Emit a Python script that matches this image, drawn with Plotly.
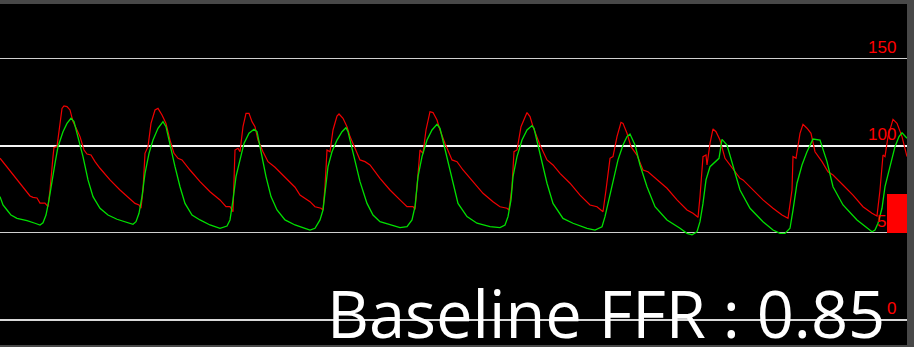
import plotly.graph_objects as go

# ---- data (time in seconds, pressure in mmHg) ----
red_t = [0.00, 0.10, 0.20, 0.30, 0.33, 0.37, 0.40, 0.45, 0.48, 0.50, 0.53, 0.54, 0.57, 0.60, 0.62, 0.64,
         0.67, 0.70, 0.73, 0.77, 0.80, 0.84, 0.87, 0.91, 0.95, 1.00, 1.10, 1.20, 1.30, 1.35, 1.39, 1.41,
         1.43, 1.45, 1.48, 1.51, 1.55, 1.58, 1.62, 1.66, 1.70, 1.74, 1.78, 1.82, 1.90, 2.00, 2.10, 2.20,
         2.26, 2.30, 2.33, 2.35, 2.38, 2.40, 2.43, 2.46, 2.49, 2.52, 2.55, 2.58, 2.63, 2.68, 2.75, 2.85,
         2.95, 3.00, 3.05, 3.10, 3.15, 3.21, 3.23, 3.25, 3.27, 3.30, 3.33, 3.37, 3.39, 3.43, 3.47, 3.50,
         3.55, 3.60, 3.65, 3.70, 3.80, 3.90, 4.00, 4.07, 4.13, 4.15, 4.17, 4.20, 4.23, 4.26, 4.30, 4.33,
         4.37, 4.40, 4.45, 4.52, 4.57, 4.63, 4.73, 4.83, 4.93, 5.00, 5.07, 5.09, 5.12, 5.14, 5.17, 5.21,
         5.27, 5.30, 5.33, 5.40, 5.47, 5.53, 5.60, 5.70, 5.80, 5.90, 5.97, 6.03, 6.06, 6.10, 6.13, 6.17,
         6.21, 6.23, 6.27, 6.31, 6.37, 6.43, 6.48, 6.57, 6.67, 6.77, 6.87, 6.93, 6.98, 7.00, 7.03, 7.06,
         7.07, 7.10, 7.13, 7.16, 7.20, 7.25, 7.32, 7.40, 7.43, 7.53, 7.63, 7.73, 7.82, 7.88, 7.92, 7.93,
         7.96, 8.00, 8.03, 8.07, 8.11, 8.15, 8.22, 8.28, 8.33, 8.43, 8.53, 8.63, 8.72, 8.77, 8.80, 8.83,
         8.85, 8.88, 8.93, 8.97, 9.02, 9.07]
red_p = [93.0, 85.6, 78.7, 71.3, 70.5, 70.1, 67.2, 67.2, 65.1, 74.7, 93.9, 99.2, 99.6, 115.0, 121.6, 123.0,
         122.6, 120.7, 114.0, 109.2, 105.4, 97.7, 95.4, 94.8, 91.0, 87.2, 80.5, 74.7, 69.9, 67.0, 66.1, 64.2,
         74.7, 95.8, 99.6, 113.0, 120.7, 121.6, 117.8, 113.0, 103.4, 95.8, 92.9, 92.0, 86.2, 79.5, 73.7, 69.0,
         65.1, 65.1, 62.2, 97.7, 98.7, 96.7, 111.1, 118.8, 118.8, 114.0, 111.1, 103.4, 96.7, 91.0, 87.8, 82.0,
         76.3, 71.8, 70.1, 68.0, 65.1, 64.2, 63.2, 76.6, 97.7, 96.7, 109.2, 117.2, 118.4, 115.9, 111.1, 105.4,
         98.7, 92.0, 91.0, 89.1, 81.4, 74.7, 69.0, 65.1, 65.1, 63.6, 76.6, 97.7, 95.8, 109.2, 119.7, 119.2,
         114.9, 109.2, 101.5, 92.0, 91.0, 86.2, 79.5, 72.8, 68.0, 65.1, 64.2, 63.2, 76.6, 96.7, 97.7, 111.1,
         119.2, 116.9, 111.1, 100.6, 92.0, 89.1, 84.3, 78.6, 71.8, 66.1, 65.1, 62.2, 74.7, 92.9, 93.9, 105.4,
         113.6, 113.0, 107.3, 99.6, 94.8, 86.2, 85.2, 80.5, 75.7, 69.0, 63.2, 61.3, 59.0, 70.9, 93.9, 94.8,
         89.1, 101.5, 109.8, 108.2, 103.4, 92.9, 87.2, 81.4, 80.5, 74.7, 69.0, 64.2, 60.3, 58.4, 74.7, 93.9,
         92.9, 107.3, 112.5, 110.2, 107.3, 96.7, 91.0, 85.2, 83.3, 77.6, 71.8, 65.1, 61.3, 59.8, 74.7, 94.8,
         93.9, 105.4, 115.3, 113.0, 105.4, 93.9]

green_t = [0.00, 0.03, 0.07, 0.11, 0.17, 0.27, 0.35, 0.40, 0.43, 0.46, 0.49, 0.52, 0.55, 0.58, 0.63, 0.67,
           0.71, 0.74, 0.78, 0.83, 0.88, 0.93, 1.00, 1.08, 1.17, 1.27, 1.33, 1.36, 1.39, 1.42, 1.45, 1.49,
           1.53, 1.58, 1.63, 1.66, 1.70, 1.75, 1.80, 1.85, 1.92, 2.00, 2.10, 2.20, 2.27, 2.30, 2.33, 2.36,
           2.40, 2.44, 2.49, 2.54, 2.57, 2.61, 2.66, 2.71, 2.77, 2.85, 2.95, 3.05, 3.10, 3.15, 3.20, 3.23,
           3.25, 3.28, 3.32, 3.37, 3.42, 3.46, 3.48, 3.53, 3.60, 3.67, 3.73, 3.80, 3.90, 4.00, 4.07, 4.12,
           4.15, 4.18, 4.22, 4.27, 4.32, 4.37, 4.40, 4.45, 4.52, 4.58, 4.67, 4.77, 4.90, 5.00, 5.05, 5.08,
           5.11, 5.13, 5.17, 5.22, 5.27, 5.32, 5.34, 5.40, 5.47, 5.53, 5.63, 5.73, 5.87, 5.95, 6.02, 6.05,
           6.08, 6.13, 6.18, 6.23, 6.27, 6.30, 6.35, 6.40, 6.47, 6.55, 6.67, 6.80, 6.87, 6.92, 6.97, 7.00,
           7.03, 7.06, 7.10, 7.19, 7.22, 7.27, 7.33, 7.40, 7.50, 7.63, 7.73, 7.80, 7.85, 7.90, 7.93, 7.97,
           8.02, 8.07, 8.11, 8.13, 8.20, 8.27, 8.33, 8.43, 8.57, 8.67, 8.72, 8.75, 8.78, 8.82, 8.85, 8.90,
           8.95, 8.99, 9.02, 9.07]
green_p = [70.9, 66.1, 63.2, 60.3, 58.4, 57.1, 55.6, 54.6, 55.9, 60.3, 69.0, 80.5, 90.0, 99.6, 108.2, 113.0,
           115.9, 114.0, 105.4, 93.9, 80.5, 70.9, 64.2, 60.3, 57.9, 56.1, 55.0, 56.5, 61.3, 70.9, 84.3, 95.8,
           103.4, 110.2, 114.0, 111.1, 100.6, 88.1, 76.6, 67.0, 60.3, 57.5, 54.6, 52.7, 54.0, 57.5, 69.0, 82.4,
           92.0, 101.5, 107.3, 109.6, 108.2, 95.8, 82.4, 70.9, 63.2, 57.5, 54.6, 52.7, 51.7, 52.7, 57.5, 63.2,
           74.7, 88.1, 96.7, 103.4, 108.2, 110.5, 108.2, 95.8, 79.5, 67.0, 60.3, 56.5, 54.6, 53.1, 53.6, 57.5,
           65.1, 82.4, 93.9, 103.4, 109.2, 112.5, 110.2, 97.7, 80.5, 67.0, 59.4, 55.6, 53.6, 53.1, 54.6, 59.4,
           69.0, 82.4, 93.9, 103.4, 109.2, 111.7, 110.2, 95.8, 78.6, 67.0, 58.4, 55.6, 52.7, 51.7, 53.6, 59.4,
           67.0, 80.5, 92.0, 100.6, 105.4, 106.9, 100.6, 89.1, 76.6, 65.1, 57.5, 52.7, 49.8, 48.9, 50.7, 56.5,
           67.0, 80.5, 88.1, 92.9, 103.8, 100.6, 88.1, 74.7, 64.2, 56.5, 51.7, 49.8, 49.8, 52.7, 63.2, 78.6,
           89.1, 96.7, 101.5, 104.0, 103.4, 91.0, 76.6, 66.1, 57.5, 52.7, 50.7, 51.7, 55.6, 64.2, 76.6, 88.1,
           99.6, 105.4, 107.6, 104.4, 92.0]

tick_values = [0, 50, 100, 150]
tick_labels = ["0", "50", "100", "150"]
thin_grid_values = [50, 150]      # drawn as 1px axis gridlines
thick_grid_values = [0, 100]      # drawn as 2px lines
indicator_range = [50, 72.4]
caption = "Baseline FFR : 0.85"

# ---- figure ----
fig = go.Figure()
fig.add_trace(go.Scatter(x=red_t, y=red_p, mode="lines",
                         line=dict(color="#f00000", width=1.2), hoverinfo="skip"))
fig.add_trace(go.Scatter(x=green_t, y=green_p, mode="lines",
                         line=dict(color="#00e000", width=1.3), hoverinfo="skip"))

thick_style = {0: "#d8d8d8", 100: "#f4f4f4"}
shapes = []
annotations = []
for v in thick_grid_values:
    shapes.append(dict(type="line", xref="paper", yref="y", x0=0, x1=1, y0=v, y1=v,
                       line=dict(color=thick_style[v], width=2), layer="below"))
for v, lab in zip(tick_values, tick_labels):
    annotations.append(dict(text=lab, xref="paper", yref="y", x=898 / 907, y=v,
                            xanchor="right", yanchor="bottom", showarrow=False,
                            font=dict(family="Liberation Sans, Arial", size=17, color="#ff0000")))

shapes.append(dict(type="rect", xref="paper", yref="y", x0=887 / 907, x1=1,
                   y0=indicator_range[0], y1=indicator_range[1],
                   fillcolor="#ff0000", line=dict(width=0), layer="above"))

annotations.append(dict(text=caption, xref="paper", yref="paper", x=325 / 907, y=0.0933,
                        xanchor="left", yanchor="middle", showarrow=False,
                        font=dict(family="Open Sans", size=65, color="#ffffff")))

fig.update_layout(
    width=914, height=347,
    margin=dict(l=0, r=7, t=4, b=2, pad=0),
    paper_bgcolor="#484848", plot_bgcolor="#000000",
    showlegend=False,
    xaxis=dict(range=[0, 9.07], showgrid=False, zeroline=False, showline=False,
               showticklabels=False, ticks="", fixedrange=True),
    yaxis=dict(range=[-14.37, 181.6], tickmode="array", tickvals=thin_grid_values,
               showgrid=True, gridcolor="#d0d0d0", gridwidth=1,
               zeroline=False, showline=False, showticklabels=False, ticks="", fixedrange=True),
    shapes=shapes, annotations=annotations,
)

fig.write_html("out.html", config={"displayModeBar": False},
               post_script="document.body.style.margin='0';document.body.style.overflow='hidden';")
